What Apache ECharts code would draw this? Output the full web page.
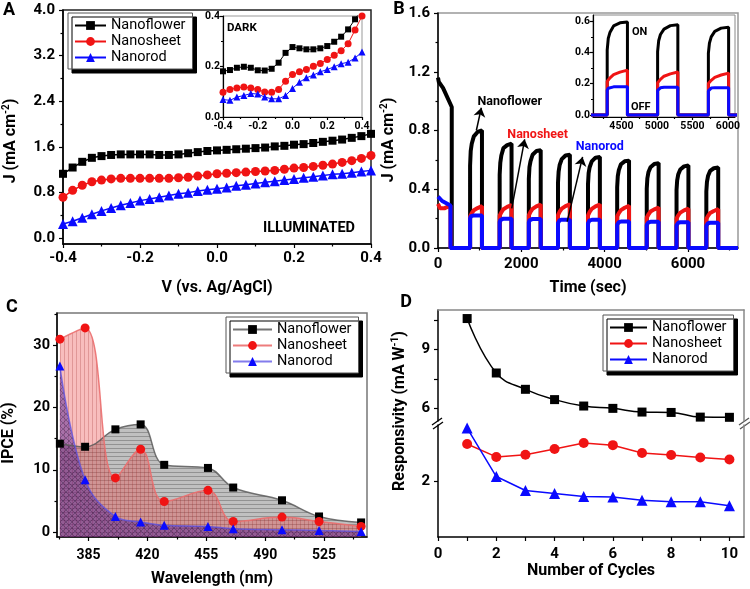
<!DOCTYPE html>
<html><head><meta charset="utf-8">
<script src="https://cdn.jsdelivr.net/npm/echarts@6/dist/echarts.min.js"></script>
<style>html,body{margin:0;padding:0;background:#fff}#c{width:750px;height:589px}</style>
</head><body><div id="c"></div>
<script>
// ---------- Panel A: illuminated J-V ----------
const aV = [-0.4,-0.375,-0.35,-0.325,-0.3,-0.275,-0.25,-0.225,-0.2,-0.175,-0.15,-0.125,-0.1,-0.075,-0.05,-0.025,0,0.025,0.05,0.075,0.1,0.125,0.15,0.175,0.2,0.225,0.25,0.275,0.3,0.325,0.35,0.375,0.4];
const aFlower = [1.13,1.24,1.34,1.41,1.44,1.46,1.47,1.47,1.47,1.47,1.46,1.46,1.47,1.49,1.51,1.53,1.54,1.55,1.56,1.57,1.58,1.59,1.61,1.62,1.64,1.65,1.67,1.69,1.71,1.73,1.76,1.79,1.83];
const aSheet  = [0.72,0.84,0.93,0.99,1.02,1.04,1.05,1.05,1.05,1.05,1.05,1.05,1.06,1.07,1.09,1.11,1.13,1.14,1.15,1.16,1.17,1.18,1.19,1.21,1.23,1.24,1.26,1.28,1.30,1.33,1.36,1.40,1.45];
const aRod    = [0.25,0.30,0.36,0.42,0.48,0.53,0.58,0.62,0.66,0.69,0.72,0.75,0.78,0.80,0.83,0.85,0.87,0.89,0.92,0.94,0.96,0.98,1.00,1.02,1.04,1.06,1.08,1.10,1.12,1.13,1.15,1.17,1.19];
const aXTicks = [-0.4,-0.2,0,0.2,0.4];
const aYTicks = [0,0.8,1.6,2.4,3.2,4.0];
// inset: dark
const aDarkV = [-0.4,-0.36,-0.32,-0.28,-0.24,-0.2,-0.16,-0.12,-0.08,-0.04,0,0.04,0.08,0.12,0.16,0.2,0.24,0.28,0.32,0.36,0.4];
const aDarkFlower = [0.181,0.186,0.195,0.199,0.195,0.185,0.184,0.191,0.215,0.254,0.277,0.272,0.268,0.268,0.272,0.281,0.298,0.318,0.347,0.387,0.43];
const aDarkSheet  = [0.098,0.109,0.115,0.119,0.115,0.109,0.099,0.098,0.109,0.142,0.168,0.179,0.188,0.201,0.212,0.228,0.245,0.262,0.29,0.345,0.40];
const aDarkRod    = [0.069,0.066,0.079,0.085,0.093,0.091,0.079,0.072,0.072,0.085,0.113,0.138,0.155,0.166,0.179,0.188,0.199,0.211,0.217,0.234,0.257];
const aDarkYTicks = [0,0.2,0.4];

// ---------- Panel B: transient photocurrent ----------
const bOnTimes  = [770,1480,2180,2880,3600,4300,5010,5725,6440];
const bOffTimes = [1055,1765,2465,3165,3885,4585,5295,6010,6725];
const bReadOffsets = [0,15,40,90,180]; // s after light-on where values below are read; 6th value = at light-off
const bFlowerPulses = [
  [0.56,0.66,0.71,0.76,0.79,0.80],[0.50,0.58,0.63,0.68,0.70,0.71],[0.47,0.55,0.59,0.635,0.66,0.665],
  [0.445,0.52,0.565,0.605,0.63,0.635],[0.435,0.51,0.55,0.59,0.615,0.62],[0.415,0.49,0.53,0.57,0.59,0.595],
  [0.405,0.475,0.515,0.55,0.572,0.578],[0.395,0.46,0.50,0.535,0.556,0.562],[0.385,0.45,0.49,0.525,0.543,0.548]];
const bSheetPulses = [
  [0.214,0.222,0.237,0.257,0.272,0.285],[0.22,0.229,0.243,0.264,0.28,0.293],[0.222,0.231,0.246,0.266,0.283,0.296],
  [0.224,0.232,0.247,0.268,0.285,0.298],[0.222,0.231,0.246,0.266,0.283,0.296],[0.215,0.224,0.238,0.258,0.274,0.287],
  [0.206,0.215,0.228,0.248,0.263,0.275],[0.201,0.209,0.222,0.241,0.256,0.268],[0.198,0.206,0.219,0.238,0.252,0.264]];
const bRodPulses = [
  [0.20,0.215,0.22,0.222,0.222,0.222],[0.176,0.19,0.196,0.2,0.2,0.2],[0.174,0.188,0.194,0.198,0.198,0.198],
  [0.17,0.183,0.189,0.193,0.193,0.193],[0.169,0.182,0.188,0.192,0.192,0.192],[0.158,0.171,0.176,0.18,0.18,0.18],
  [0.157,0.169,0.174,0.178,0.178,0.178],[0.154,0.166,0.172,0.175,0.175,0.175],[0.151,0.163,0.169,0.172,0.172,0.172]];
const bFlowerStart = [[0,1.16],[20,1.13],[120,1.09],[330,0.96]];
const bSheetStart  = [[0,0.30],[50,0.27],[150,0.27],[300,0.29]];
const bRodStart    = [[0,0.35],[100,0.32],[300,0.29]];
const bEndTime = 7200;
const bXTicks = [0,2000,4000,6000];
const bYTicks = [0,0.4,0.8,1.2,1.6];
const bInsetXTicks = [4500,5000,5500,6000];
const bInsetYTicks = [0,0.2,0.4,0.6];

// ---------- Panel C: IPCE ----------
const cWave   = [368,383,401,416,430,456,471,500,522,547];
const cFlower = [14.2,13.7,16.5,17.3,10.8,10.3,7.15,5.1,2.5,1.54];
const cSheet  = [31.0,32.8,8.7,13.3,4.9,6.7,1.7,2.4,1.7,0.9];
const cRod    = [26.7,8.4,2.5,1.6,1.07,0.9,0.53,0.37,0.26,0.1];
const cXTicks = [385,420,455,490,525];
const cYTicks = [0,10,20,30];

// ---------- Panel D: responsivity ----------
const dCycles = [1,2,3,4,5,6,7,8,9,10];
const dFlower = [10.6,7.8,6.96,6.43,6.1,5.98,5.79,5.77,5.53,5.52];
const dSheet  = [3.32,2.86,2.94,3.14,3.36,3.28,3.0,2.93,2.84,2.77];
const dRod    = [3.89,2.16,1.66,1.55,1.45,1.43,1.31,1.26,1.26,1.12];
const dXTicks = [0,2,4,6,8,10];
const dUpperYTicks = [6,9];
const dLowerYTicks = [2];

// ================= build =================
const FF = 'Roboto, "DejaVu Sans", sans-serif';
const zip = (xs, ys) => xs.map((x,i)=>[x, ys[i]]);
const f1 = v => (Math.abs(v)<1e-9?0:v).toFixed(1);
const f0 = v => String(Math.round(v));
const halfSteps = (t) => t.slice(0,-1).map((v,i)=>+( (v+t[i+1])/2 ).toFixed(4));

function buildPulses(start, pulses){
  const pts = start.slice();
  pts.push([start[start.length-1][0], 0]);
  pulses.forEach((v,i)=>{
    const on = bOnTimes[i], off = bOffTimes[i];
    pts.push([on,0]);
    bReadOffsets.forEach((d,j)=>pts.push([on+d, v[j]]));
    pts.push([off, v[5]]); pts.push([off, 0]);
  });
  pts.push([bEndTime, 0]);
  return pts;
}

const xAxes = [], yAxes = [];
function axis(list, g, o){
  const a = {
    type:'value', gridIndex:g, min:o.min, max:o.max, position:o.pos,
    axisLine:{show:o.line!==false, onZero:false, lineStyle:{color:o.lineColor||'#000', width:o.lineWidth||1.5}},
    axisTick:{show:!!o.ticks, inside:false, length:o.tickLen||4, customValues:o.ticks, lineStyle:{color:'#000', width:1.2}},
    axisLabel:{show:!!o.labels, customValues:o.labels, formatter:o.fmt, margin:o.margin==null?8:o.margin,
      fontSize:o.fs||15, fontWeight:'bold', fontFamily:FF, color:'#000'},
    splitLine:{show:false}
  };
  if(o.name){
    a.name=o.name; a.nameLocation='middle'; a.nameGap=o.nameGap; a.nameMoveOverlap=false;
    a.nameTextStyle={fontSize:16, fontWeight:'bold', fontFamily:FF, color:'#000'};
  }
  list.push(a);
  const idx = list.length-1;
  if(o.minor){
    list.push({type:'value', gridIndex:g, min:o.min, max:o.max, position:o.pos,
      axisLine:{show:false, onZero:false}, axisLabel:{show:false}, splitLine:{show:false},
      axisTick:{show:true, inside:false, length:o.minorLen||2.5, customValues:o.minor, lineStyle:{color:'#000', width:1.2}}});
  }
  return idx;
}

const grids = [
  {left:63, top:10, width:308, height:234, show:true, borderColor:'#222', borderWidth:1.5},
  {left:223, top:16, width:139, height:101, show:true, borderColor:'#999', borderWidth:1, backgroundColor:'#fff'},
  {left:438, top:13, width:300, height:235, show:true, borderColor:'#999', borderWidth:1.5},
  {left:593, top:15, width:142, height:102, show:true, borderColor:'#888', borderWidth:1, backgroundColor:'#fff'},
  {left:57, top:313, width:310, height:224, show:true, borderColor:'#777', borderWidth:1.5},
  {left:438, top:310, width:306, height:111},
  {left:438, top:425, width:306, height:112}
].map(g=>Object.assign({outerBoundsMode:'none', containLabel:false}, g));

// A
const axAx = axis(xAxes,0,{pos:'bottom',min:-0.4,max:0.4,labels:aXTicks,ticks:aXTicks,minor:halfSteps(aXTicks),fmt:f1,margin:7,name:'V (vs. Ag/AgCl)',nameGap:36});
const axAy = axis(yAxes,0,{pos:'left',min:-0.1,max:4.0,labels:aYTicks,ticks:aYTicks,minor:halfSteps(aYTicks),fmt:f1,margin:8});
const axAix = axis(xAxes,1,{pos:'bottom',min:-0.4,max:0.4,labels:aXTicks,ticks:aXTicks,minor:halfSteps(aXTicks),fmt:f1,margin:4,fs:10.5,lineWidth:1.2,tickLen:3,minorLen:2});
const axAiy = axis(yAxes,1,{pos:'left',min:0,max:0.4,labels:aDarkYTicks,ticks:aDarkYTicks,minor:halfSteps(aDarkYTicks),fmt:f1,margin:3,fs:10.5,lineWidth:1.2,tickLen:3,minorLen:2});
// B
const axBx = axis(xAxes,2,{pos:'bottom',min:0,max:bEndTime,labels:bXTicks,ticks:bXTicks,minor:[1000,3000,5000,7000],fmt:f0,margin:9,name:'Time (sec)',nameGap:32});
const axBy = axis(yAxes,2,{pos:'left',min:0,max:1.6,labels:bYTicks,ticks:bYTicks,minor:halfSteps(bYTicks),fmt:f1,margin:8});
const axBix = axis(xAxes,3,{pos:'bottom',min:4100,max:6100,labels:bInsetXTicks,ticks:bInsetXTicks,minor:[4250,4750,5250,5750],fmt:f0,margin:4,fs:10.5,lineWidth:1.2,tickLen:3,minorLen:2});
const axBiy = axis(yAxes,3,{pos:'left',min:-0.013,max:0.64,labels:bInsetYTicks,ticks:bInsetYTicks,minor:halfSteps(bInsetYTicks),fmt:f1,margin:3,fs:10.5,lineWidth:1.2,tickLen:3,minorLen:2});
// C
const axCx = axis(xAxes,4,{pos:'bottom',min:366.3,max:550.5,labels:cXTicks,ticks:cXTicks,minor:[367.5,402.5,437.5,472.5,507.5,542.5],fmt:f0,margin:11,fs:14,name:'Wavelength (nm)',nameGap:34});
const axCy = axis(yAxes,4,{pos:'left',min:-0.8,max:35.2,labels:cYTicks,ticks:cYTicks,minor:[5,15,25,35],fmt:f0,margin:7,fs:14.5});
// D
const axDux = axis(xAxes,5,{pos:'top',min:0,max:10.5,lineColor:'#888'});
const axDuy = axis(yAxes,5,{pos:'left',min:5.33,max:11.04,labels:dUpperYTicks,ticks:[6,7.5,9,10.5],fmt:f0,margin:8});
axis(yAxes,5,{pos:'right',min:5.33,max:11.04,lineColor:'#888'});
const axDlx = axis(xAxes,6,{pos:'bottom',min:0,max:10.5,labels:dXTicks,ticks:[0,1,2,3,4,5,6,7,8,9,10],fmt:f0,margin:10,name:'Number of Cycles',nameGap:26});
const axDly = axis(yAxes,6,{pos:'left',min:0,max:4.0,labels:dLowerYTicks,ticks:dLowerYTicks,fmt:f0,margin:8});
axis(yAxes,6,{pos:'right',min:0,max:4.0,lineColor:'#888'});

const BLACK='#000', RED='#f01414', BLUE='#0a0aff';
function lineS(name, xi, yi, data, sym, size, color, lw, extra){
  return Object.assign({name, type:'line', xAxisIndex:xi, yAxisIndex:yi, data, symbol:sym, symbolSize:size,
    showAllSymbol:true, lineStyle:{color, width:lw}, itemStyle:{color, borderWidth:0}, emphasis:{disabled:true}}, extra||{});
}

function hatch(bg, lc, kind, size){
  const c=document.createElement('canvas'); c.width=size; c.height=size;
  const x=c.getContext('2d'); x.fillStyle=bg; x.fillRect(0,0,size,size);
  x.strokeStyle=lc; x.lineWidth=1; x.beginPath();
  if(kind==='h'){x.moveTo(0,0.5);x.lineTo(size,0.5);}
  if(kind==='v'){x.moveTo(0.5,0);x.lineTo(0.5,size);}
  if(kind==='x'){x.moveTo(0,0);x.lineTo(size,size);x.moveTo(size,0);x.lineTo(0,size);}
  x.stroke();
  return {image:c, repeat:'repeat'};
}

const series = [
  // A main
  lineS('A|Nanoflower',axAx,axAy,zip(aV,aFlower),'rect',8,BLACK,1.5),
  lineS('A|Nanosheet',axAx,axAy,zip(aV,aSheet),'circle',9,RED,1.5),
  lineS('A|Nanorod',axAx,axAy,zip(aV,aRod),'triangle',10,BLUE,1.5),
  // A inset
  lineS('Ai|Nanoflower',axAix,axAiy,zip(aDarkV,aDarkFlower),'rect',6,BLACK,1),
  lineS('Ai|Nanosheet',axAix,axAiy,zip(aDarkV,aDarkSheet),'circle',7,RED,1),
  lineS('Ai|Nanorod',axAix,axAiy,zip(aDarkV,aDarkRod),'triangle',7,BLUE,1),
  // B main
  lineS('B|Nanoflower',axBx,axBy,buildPulses(bFlowerStart,bFlowerPulses),'none',0,BLACK,4,{showSymbol:false,clip:false,
    markLine:{silent:true,symbol:['none','arrow'],symbolSize:9,label:{show:false},lineStyle:{color:'#000',width:1.5,type:'solid'},
      data:[[{coord:[920,0.80]},{coord:[1040,0.955]}],[{coord:[1770,0.27]},{coord:[2080,0.74]}],[{coord:[3100,0.18]},{coord:[3470,0.62]}]]},
    markPoint:{silent:true,symbol:'circle',symbolSize:0,
      label:{show:true,position:'inside',fontFamily:FF,fontWeight:'bold',fontSize:12.5},
      data:[{coord:[1723,0.994],label:{formatter:'Nanoflower',color:'#000'}},
            {coord:[2393,0.769],label:{formatter:'Nanosheet',color:RED}},
            {coord:[3881,0.687],label:{formatter:'Nanorod',color:BLUE}}]}}),
  lineS('B|Nanosheet',axBx,axBy,buildPulses(bSheetStart,bSheetPulses),'none',0,RED,4,{showSymbol:false,clip:false}),
  lineS('B|Nanorod',axBx,axBy,buildPulses(bRodStart,bRodPulses),'none',0,BLUE,4,{showSymbol:false,clip:false}),
  // B inset
  lineS('Bi|Nanoflower',axBix,axBiy,buildPulses(bFlowerStart,bFlowerPulses),'none',0,BLACK,3,{showSymbol:false}),
  lineS('Bi|Nanosheet',axBix,axBiy,buildPulses(bSheetStart,bSheetPulses),'none',0,RED,3,{showSymbol:false}),
  lineS('Bi|Nanorod',axBix,axBiy,buildPulses(bRodStart,bRodPulses),'none',0,BLUE,3,{showSymbol:false}),
  // C
  lineS('C|Nanoflower',axCx,axCy,zip(cWave,cFlower),'rect',8,'#000',1.5,{smooth:0.4,
    lineStyle:{color:'rgba(90,90,90,0.85)',width:1.5},areaStyle:{origin:'start',color:hatch('rgba(105,105,105,0.6)','rgba(45,45,45,0.55)','h',4)}}),
  lineS('C|Nanosheet',axCx,axCy,zip(cWave,cSheet),'circle',9,RED,1.5,{smooth:0.4,
    lineStyle:{color:'rgba(235,110,110,0.9)',width:1.5},areaStyle:{origin:'start',color:hatch('rgba(238,70,70,0.5)','rgba(170,40,40,0.45)','v',4)}}),
  lineS('C|Nanorod',axCx,axCy,zip(cWave,cRod),'triangle',9,BLUE,1.5,{smooth:0.4,
    lineStyle:{color:'rgba(90,80,230,0.75)',width:1.5},areaStyle:{origin:'start',color:hatch('rgba(85,35,150,0.7)','rgba(30,10,70,0.55)','x',6)}}),
  // D
  lineS('D|Nanoflower',axDux,axDuy,zip(dCycles,dFlower),'rect',9,BLACK,1.5,{smooth:0.45}),
  lineS('D|Nanosheet',axDlx,axDly,zip(dCycles,dSheet),'circle',10,RED,1.5),
  lineS('D|Nanorod',axDlx,axDly,zip(dCycles,dRod),'triangle',11,BLUE,1.5)
];

function legend(prefix, left, top, itemWidth){
  return {data:['Nanoflower','Nanosheet','Nanorod'].map(n=>prefix+'|'+n), formatter:n=>n.split('|')[1],
    left, top, orient:'vertical', selectedMode:false, itemWidth, itemHeight:11, itemGap:1,
    padding:[5,7,4,6], backgroundColor:'#fff', borderColor:'#555', borderWidth:1,
    shadowColor:'#000', shadowOffsetX:4, shadowOffsetY:4, shadowBlur:0.01,
    textStyle:{fontFamily:FF, fontSize:14.5, color:'#000', fontWeight:'normal'}};
}

const T = (text, x, y, size, extra) => Object.assign({type:'text', x, y, silent:true,
  style:Object.assign({text, font:'bold '+size+'px '+FF, fill:'#000', align:'center', verticalAlign:'middle'}, extra||{})});
// rotated (bottom-to-top) axis title built from plain + superscript pieces
function YT(parts, cx, cy){
  const main = 'bold 16px '+FF, sup = 'bold 10px '+FF;
  const els = [];
  // measure to center the whole string
  const cv = document.createElement('canvas').getContext('2d');
  let total = 0; parts.forEach(p=>{cv.font = p.sup?sup:main; p.w = cv.measureText(p.t).width; total += p.w;});
  let off = -total/2;
  parts.forEach(p=>{
    els.push({type:'text', silent:true, x:cx + (p.sup?-5:0), y:cy - off, rotation:Math.PI/2,
      style:{text:p.t, font:p.sup?sup:main, fill:'#000', align:'left', verticalAlign:'middle'}});
    off += p.w;
  });
  return els;
}
const L = (x1,y1,x2,y2,color) => ({type:'line', silent:true, shape:{x1,y1,x2,y2}, style:{stroke:color||'#000', lineWidth:1.3}});

const graphic = [
  T('A',9,10,18), T('B',399,9,18), T('C',12,307,18), T('D',406,302,18),
  T('ILLUMINATED',309,228,14.5), T('DARK',227,28,11.5,{align:'left'}),
  T('ON',632,32,11,{align:'left'}), T('OFF',631,107,11,{align:'left'}),
  ...YT([{t:'J (mA cm'},{t:'-2',sup:true},{t:')'}],11,141),
  ...YT([{t:'J (mA cm'},{t:'-2',sup:true},{t:')'}],389,140),
  ...YT([{t:'IPCE (%)'}],9,433),
  ...YT([{t:'Responsivity (mA W'},{t:'-1',sup:true},{t:')'}],400,411),
  {type:'rect', silent:true, shape:{x:434,y:421,width:8,height:4}, style:{fill:'#fff'}},
  {type:'rect', silent:true, shape:{x:740,y:421,width:8,height:4}, style:{fill:'#fff'}},
  L(432,425,442,418), L(433,429,443,422), L(739,425,749,418,'#555'), L(740,429,750,422,'#555')
];

const chart = echarts.init(document.getElementById('c'), null, {renderer:'canvas'});
chart.setOption({
  animation:false, backgroundColor:'#fff',
  grid:grids, xAxis:xAxes, yAxis:yAxes, series,
  legend:[legend('A',68,13,31), legend('C',226,317,39), legend('D',603,315,37)],
  graphic
});
</script></body></html>
